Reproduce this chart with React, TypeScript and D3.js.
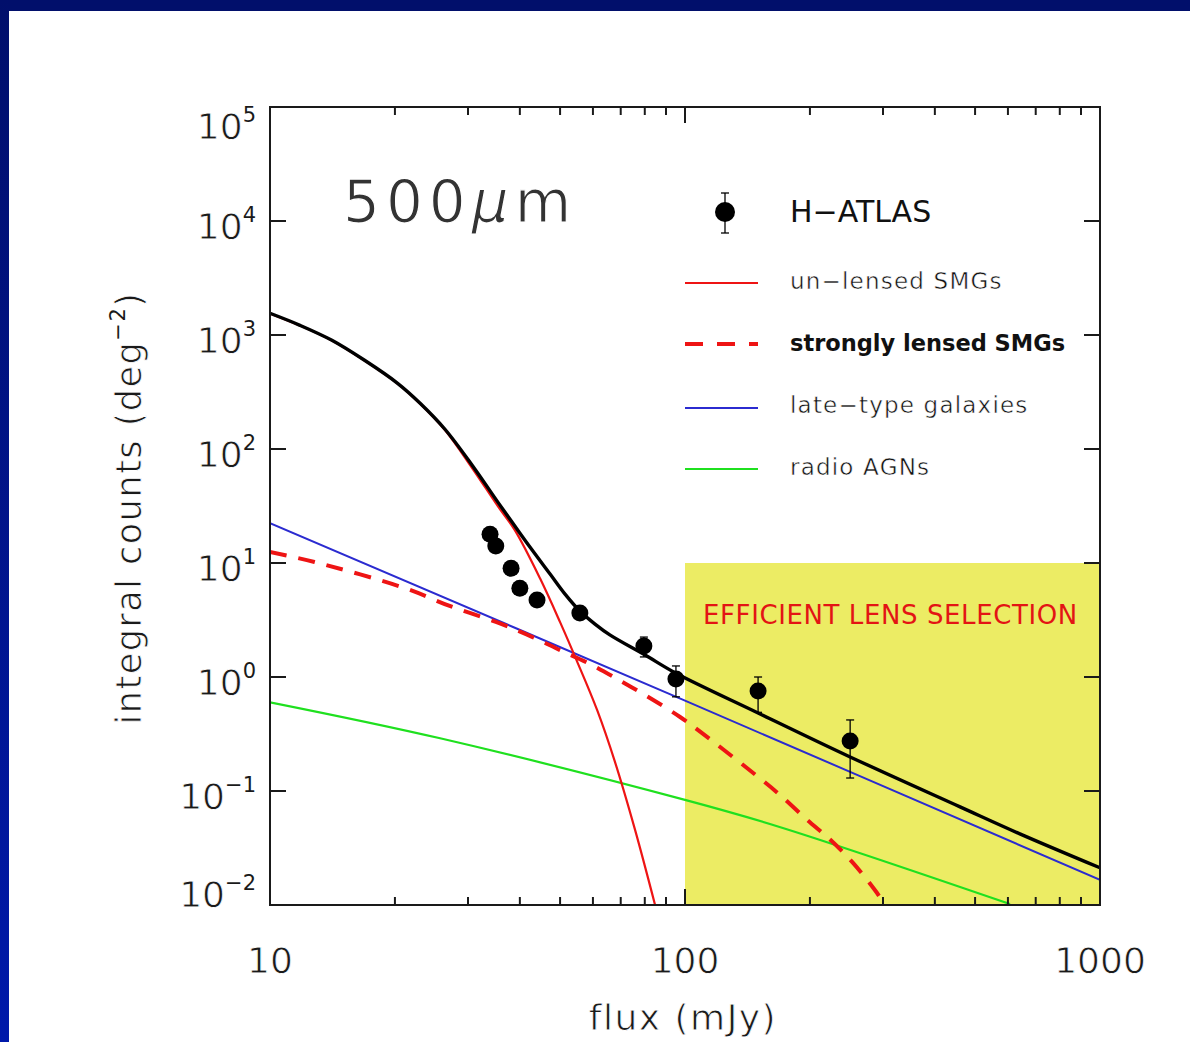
import React from "react";
import * as d3 from "d3";

// ---- data: flux in mJy, integral counts in deg^-2 ----
const hatlasFlux = [33.9, 35.0, 38.1, 40.0, 44.0, 55.8, 79.6, 95.1, 150, 250];
const hatlasCounts = [17.9, 14.1, 9.0, 6.0, 4.73, 3.64, 1.87, 0.96, 0.754, 0.275];
const hatlasLow = [17.0, 13.4, 8.6, 5.7, 4.5, 3.45, 1.5, 0.67, 0.49, 0.13];
const hatlasHigh = [18.8, 14.8, 9.4, 6.3, 4.95, 3.85, 2.24, 1.25, 1.0, 0.42];

const totalFlux = [10, 11.81, 14.1, 16.9, 20.3, 23.0, 26.4, 30.7, 35.4, 38.9, 42.3, 47.3, 51.4, 55.8, 60.7, 65.9, 80.1, 95.1, 150, 250, 460, 641, 1000];
const totalCounts = [1550, 1216, 899, 600, 377, 252, 149, 72.1, 34.2, 21.1, 13.8, 8.0, 5.33, 3.79, 2.91, 2.34, 1.56, 1.08, 0.484, 0.199, 0.0726, 0.0421, 0.0212];

const unlensedFlux = [10, 11.81, 14.1, 16.9, 20.3, 23.0, 26.4, 30.7, 35.4, 38.9, 44.7, 50.0, 54.9, 61.4, 67.8, 75.8, 84.7];
const unlensedCounts = [1545, 1212, 896, 597, 375, 250, 147, 68.1, 31.5, 19.4, 7.37, 3.03, 1.38, 0.514, 0.18, 0.0456, 0.01];

const lensedFlux = [10, 12.8, 21.1, 27.1, 35.8, 42.8, 50, 59, 69.7, 80.9, 97.3, 113, 152, 169, 197, 224, 254, 290, 303];
const lensedCounts = [12.5, 10.2, 6.03, 4.2, 2.95, 2.25, 1.72, 1.3, 0.93, 0.68, 0.446, 0.298, 0.128, 0.093, 0.0558, 0.0373, 0.0234, 0.0128, 0.01];

const lateTypeFlux = [10, 100, 1000];
const lateTypeCounts = [22.4, 0.62, 0.0166];

const agnFlux = [10, 25.7, 100, 169, 607];
const agnCounts = [0.6, 0.29, 0.0835, 0.0484, 0.0102];

const xTickLabels = ["10", "100", "1000"];
const yTickExponents = [-2, -1, 0, 1, 2, 3, 4, 5];

const selectionRegion = { fluxMin: 100, fluxMax: 1000, countsMin: 0.01, countsMax: 10 };

const legendLabels = ["un\u2212lensed SMGs", "strongly lensed SMGs", "late\u2212type galaxies", "radio AGNs"];

const FONT = "'DejaVu Sans', 'Liberation Sans', sans-serif";

const W = 1190;
const H = 1042;
const plot = { left: 270, right: 1100, top: 107, bottom: 905 };

const x = d3.scaleLog().domain([10, 1000]).range([plot.left, plot.right]);
const y = d3.scaleLog().domain([0.01, 1e5]).range([plot.bottom, plot.top]);

const line = d3
  .line<[number, number]>()
  .x((d) => x(d[0]))
  .y((d) => y(d[1]))
  .curve(d3.curveCatmullRom.alpha(0.5));

const zip = (a: number[], b: number[]) => a.map((v, i) => [v, b[i]] as [number, number]);

const RED = "#ee1414";
const BLUE = "#2b2bd0";
const GREEN = "#1fe01f";
const YELLOW = "#ecec64";
const INK = "#1a1a1a";

// thin white outline drawn over glyphs for a lighter stroke
const thin = { stroke: "#ffffff", strokeWidth: 0.8 };

function superLabel(exp: number) {
  return exp < 0 ? "\u2212" + Math.abs(exp) : String(exp);
}

export default function App() {
  const minorTicks = x.ticks().filter((t) => t > 10 && t < 1000);
  const yLabelBaseline = (e: number) => {
    if (e === 5) return 139;
    if (e === -2) return 907;
    return y(Math.pow(10, e)) + 18;
  };

  const legendX0 = 685;
  const legendX1 = 758;
  const legendTextX = 790;
  const legendRows = [283, 344, 408, 469];
  const legendBaselines = [289, 351, 413, 475];
  const legendStyles = [
    { stroke: RED, width: 2.2, dash: undefined as string | undefined },
    { stroke: RED, width: 4, dash: "18,14" },
    { stroke: BLUE, width: 2, dash: undefined },
    { stroke: GREEN, width: 2.2, dash: undefined },
  ];

  return (
    <svg
      width={W}
      height={H}
      viewBox={`0 0 ${W} ${H}`}
      style={{ position: "absolute", left: 0, top: 0, display: "block" }}
    >
      <defs>
        <linearGradient id="sideBar" x1="0" y1="0" x2="0" y2="1">
          <stop offset="0" stopColor="#010f6b" />
          <stop offset="1" stopColor="#0019aa" />
        </linearGradient>
        <clipPath id="plotClip">
          <rect x={plot.left} y={plot.top} width={plot.right - plot.left} height={plot.bottom - plot.top} />
        </clipPath>
      </defs>

      {/* slide background */}
      <rect x={0} y={0} width={W} height={H} fill="#ffffff" />
      <rect x={0} y={0} width={W} height={11} fill="#010f6b" />
      <rect x={0} y={0} width={9} height={H} fill="url(#sideBar)" />

      {/* efficient lens selection region */}
      <rect
        x={x(selectionRegion.fluxMin)}
        y={y(selectionRegion.countsMax)}
        width={x(selectionRegion.fluxMax) - x(selectionRegion.fluxMin)}
        height={y(selectionRegion.countsMin) - y(selectionRegion.countsMax)}
        fill={YELLOW}
      />
      <text x={703} y={624} fontFamily={FONT} fontSize={26} letterSpacing={0.6} fill="#e31414">
        EFFICIENT LENS SELECTION
      </text>

      {/* model curves */}
      <g clipPath="url(#plotClip)" fill="none" strokeLinejoin="round">
        <path d={line(zip(agnFlux, agnCounts)) || ""} stroke={GREEN} strokeWidth={2.2} />
        <path d={line(zip(lateTypeFlux, lateTypeCounts)) || ""} stroke={BLUE} strokeWidth={2} />
        <path d={line(zip(lensedFlux, lensedCounts)) || ""} stroke={RED} strokeWidth={4} strokeDasharray="17,12" />
        <path d={line(zip(unlensedFlux, unlensedCounts)) || ""} stroke={RED} strokeWidth={2.2} />
        <path d={line(zip(totalFlux, totalCounts)) || ""} stroke="#000" strokeWidth={3.4} />
      </g>

      {/* H-ATLAS counts */}
      <g>
        {hatlasFlux.map((f, i) => (
          <g key={i}>
            <line x1={x(f)} x2={x(f)} y1={y(hatlasLow[i])} y2={y(hatlasHigh[i])} stroke="#000" strokeWidth={1.3} />
            <line x1={x(f) - 4} x2={x(f) + 4} y1={y(hatlasLow[i])} y2={y(hatlasLow[i])} stroke="#000" strokeWidth={1.3} />
            <line x1={x(f) - 4} x2={x(f) + 4} y1={y(hatlasHigh[i])} y2={y(hatlasHigh[i])} stroke="#000" strokeWidth={1.3} />
            <circle cx={x(f)} cy={y(hatlasCounts[i])} r={8.5} fill="#000" />
          </g>
        ))}
      </g>

      {/* frame */}
      <rect
        x={plot.left}
        y={plot.top}
        width={plot.right - plot.left}
        height={plot.bottom - plot.top}
        fill="none"
        stroke={INK}
        strokeWidth={2}
      />

      {/* ticks on all four sides */}
      <g stroke={INK} strokeWidth={2}>
        {minorTicks.map((t) => {
          const len = t === 100 ? 16 : 8;
          return (
            <g key={t}>
              <line x1={x(t)} x2={x(t)} y1={plot.bottom} y2={plot.bottom - len} />
              <line x1={x(t)} x2={x(t)} y1={plot.top} y2={plot.top + len} />
            </g>
          );
        })}
        {yTickExponents.map((e) => (
          <g key={e}>
            <line x1={plot.left} x2={plot.left + 16} y1={y(Math.pow(10, e))} y2={y(Math.pow(10, e))} />
            <line x1={plot.right} x2={plot.right - 16} y1={y(Math.pow(10, e))} y2={y(Math.pow(10, e))} />
          </g>
        ))}
      </g>

      {/* x tick labels */}
      <g fontFamily={FONT} fontSize={36} fill={INK} textAnchor="middle" {...thin}>
        {xTickLabels.map((lab) => (
          <text key={lab} x={x(+lab)} y={973}>
            {lab}
          </text>
        ))}
      </g>

      {/* y tick labels */}
      <g fontFamily={FONT} fill={INK}>
        {yTickExponents.map((e) => (
          <text key={e} x={256} y={yLabelBaseline(e)} textAnchor="end" fontSize={36}>
            <tspan {...thin}>10</tspan>
            <tspan dy={-17} fontSize={21}>
              {superLabel(e)}
            </tspan>
          </text>
        ))}
      </g>

      {/* axis titles */}
      <text
        x={683}
        y={1030}
        textAnchor="middle"
        fontFamily={FONT}
        fontSize={36}
        letterSpacing={1.5}
        fill={INK}
        {...thin}
      >
        flux (mJy)
      </text>
      <text
        transform="translate(141,508) rotate(-90)"
        textAnchor="middle"
        fontFamily={FONT}
        fontSize={35}
        letterSpacing={1.5}
        fill={INK}
      >
        <tspan {...thin}>integral counts (deg</tspan>
        <tspan dy={-16} fontSize={21}>
          {"\u22122"}
        </tspan>
        <tspan dy={16} {...thin}>
          )
        </tspan>
      </text>

      {/* band label */}
      <text x={343} y={222} fontFamily={FONT} fontSize={58} letterSpacing={6} fill="#333" stroke="#fff" strokeWidth={1.2}>
        500
        <tspan fontStyle="italic">{"\u03bc"}</tspan>m
      </text>

      {/* legend */}
      <g>
        <line x1={725} x2={725} y1={193} y2={233} stroke="#000" strokeWidth={1.3} />
        <line x1={721} x2={729} y1={193} y2={193} stroke="#000" strokeWidth={1.3} />
        <line x1={721} x2={729} y1={233} y2={233} stroke="#000" strokeWidth={1.3} />
        <circle cx={725} cy={212} r={10} fill="#000" />
        <text x={legendTextX} y={222} fontFamily={FONT} fontSize={30} fill="#111">
          {"H\u2212ATLAS"}
        </text>
        {legendLabels.map((lab, i) => (
          <g key={lab}>
            <line
              x1={legendX0}
              x2={legendX1}
              y1={legendRows[i]}
              y2={legendRows[i]}
              stroke={legendStyles[i].stroke}
              strokeWidth={legendStyles[i].width}
              strokeDasharray={legendStyles[i].dash}
            />
            {i === 1 ? (
              <text x={legendTextX} y={legendBaselines[i]} fontFamily={FONT} fontSize={22.5} fontWeight="bold" fill="#111">
                {lab}
              </text>
            ) : (
              <text
                x={legendTextX}
                y={legendBaselines[i]}
                fontFamily={FONT}
                fontSize={23}
                letterSpacing={1.2}
                fill="#111"
                stroke="#fff"
                strokeWidth={0.5}
              >
                {lab}
              </text>
            )}
          </g>
        ))}
      </g>
    </svg>
  );
}
